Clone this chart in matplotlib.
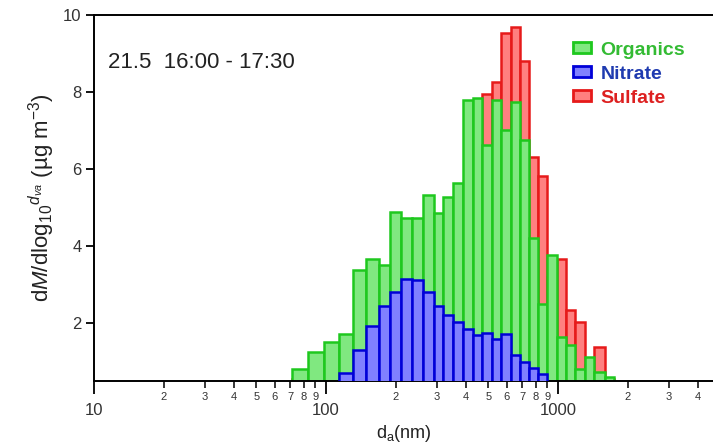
import matplotlib
matplotlib.use("Agg")
import matplotlib.pyplot as plt
from matplotlib.patches import Patch
from matplotlib.ticker import FixedLocator, FixedFormatter
import numpy as np

plt.rcParams['font.family'] = ['Liberation Sans', 'DejaVu Sans']
plt.rcParams['mathtext.fontset'] = 'custom'
plt.rcParams['mathtext.rm'] = 'Liberation Sans'
plt.rcParams['mathtext.it'] = 'Liberation Sans:italic'

# bin edges (nm)
bin_edges = [71.2, 83.9, 98.0, 114.1, 130.4, 148.8, 169.2, 188.7, 211.0, 234.8,
             262.7, 292.2, 320.4, 351.7, 388.5, 428.9, 471.7, 518.0, 566.2, 625.5,
             683.9, 752.0, 822.6, 896.7, 990.1, 1082.7, 1189.6, 1307.6, 1429.8,
             1586.7, 1743.5]

organics = [0.79, 1.25, 1.50, 1.70, 3.36, 3.67, 3.51, 4.89, 4.73, 4.73,
            5.31, 4.86, 5.28, 5.64, 7.79, 7.84, 6.62, 7.79, 7.01, 7.73,
            6.75, 4.20, 2.49, 3.76, 1.62, 1.43, 0.80, 1.11, 0.71, 0.60]

sulfate = [0.55, 0.60, 0.70, 0.80, 1.00, 1.20, 1.40, 1.60, 1.90, 2.20,
           2.60, 3.00, 3.60, 4.30, 5.20, 6.40, 7.94, 8.27, 9.52, 9.68,
           8.81, 6.30, 5.82, 3.20, 3.67, 2.34, 2.03, 0.90, 1.38, 0.55]

# nitrate occupies bins 3..22
nitrate_start = 3
nitrate = [0.70, 1.28, 1.92, 2.44, 2.79, 3.13, 3.12, 2.79, 2.44, 2.19,
           2.01, 1.84, 1.68, 1.74, 1.58, 1.70, 1.15, 0.99, 0.82, 0.67]

major_ticks = [10, 100, 1000]
major_labels = ['10', '100', '1000']
minor_ticks = [m * d for d in (10, 100, 1000) for m in range(2, 10)]
minor_labels = [str(m) for d in (10, 100, 1000) for m in range(2, 10)]

y_ticks = [2, 4, 6, 8, 10]

fig = plt.figure(figsize=(7.13, 4.48), dpi=100)
ax = fig.add_axes([94/713, 1 - 380.5/448, 1 - 94/713, (380.5 - 15)/448])

edges = np.array(bin_edges)
left = edges[:-1]
widths = np.diff(edges)

lw = 1.8
ax.bar(left, sulfate, width=widths, align='edge', color='#ff8080',
       edgecolor='#e61a1a', linewidth=lw, zorder=1)
ax.bar(left, organics, width=widths, align='edge', color='#80e880',
       edgecolor='#1ec81e', linewidth=lw, zorder=2)
n_left = left[nitrate_start:nitrate_start + len(nitrate)]
n_w = widths[nitrate_start:nitrate_start + len(nitrate)]
ax.bar(n_left, nitrate, width=n_w, align='edge', color='#8080ff',
       edgecolor='#0000d8', linewidth=lw, zorder=3)

ax.set_xscale('log')
ax.set_xlim(10, 4657)
ax.set_ylim(0.5, 10)

ax.xaxis.set_major_locator(FixedLocator(major_ticks))
ax.xaxis.set_major_formatter(FixedFormatter(major_labels))
ax.xaxis.set_minor_locator(FixedLocator(minor_ticks))
ax.xaxis.set_minor_formatter(FixedFormatter(minor_labels))
ax.tick_params(axis='x', which='major', direction='out', length=9, width=1.3,
               pad=7, labelsize=12, labelcolor='#333333')
ax.tick_params(axis='x', which='minor', direction='out', length=5, width=1.1,
               pad=3, labelsize=8, labelcolor='#333333')
ax.set_yticks(y_ticks)
ax.tick_params(axis='y', which='major', direction='out', length=6, width=1.3,
               labelsize=12, pad=3, labelcolor='#333333')
ax.tick_params(axis='y', which='minor', left=False)

for s in ['left', 'bottom', 'top']:
    ax.spines[s].set_linewidth(1.4)
ax.spines['right'].set_visible(False)

ax.set_xlabel('d$_{\\mathrm{a}}$(nm)', fontsize=13, labelpad=4, color='#222222')
ax.set_ylabel('d$\\it{M}$/dlog$_{10}$$\\it{^{d_{va}}}$ (µg m$^{-3}$)', fontsize=16,
              labelpad=4, color='#222222')

ax.text(0.023, 0.870, '21.5  16:00 - 17:30', transform=ax.transAxes,
        fontsize=16, va='center', ha='left', color='#222222')

handles = [Patch(facecolor='#80e880', edgecolor='#1ec81e', linewidth=2),
           Patch(facecolor='#8080ff', edgecolor='#0000d8', linewidth=2),
           Patch(facecolor='#ff8080', edgecolor='#e61a1a', linewidth=2)]
labels = ['Organics', 'Nitrate', 'Sulfate']
leg = ax.legend(handles, labels, loc='upper left', bbox_to_anchor=(0.774, 0.927),
                frameon=False, prop={'size': 14, 'weight': 'bold'},
                handlelength=0.9, handleheight=0.5, labelspacing=0.36,
                handletextpad=0.5, borderaxespad=0, borderpad=0)
for t, c in zip(leg.get_texts(), ['#33bb33', '#1f3bb0', '#dd2020']):
    t.set_color(c)

fig.savefig('out.png', dpi=100)
